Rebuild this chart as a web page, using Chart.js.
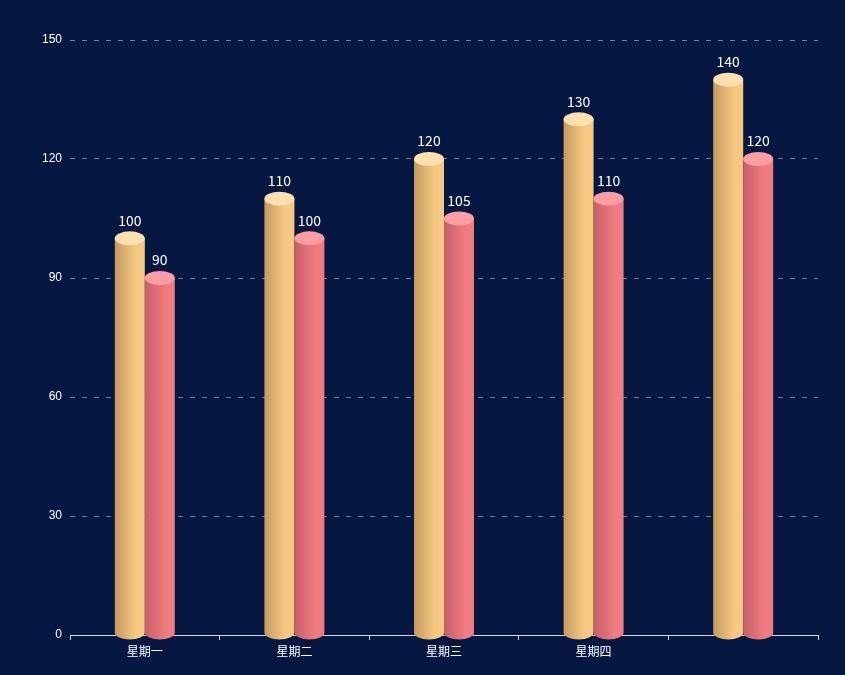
<!DOCTYPE html>
<html><head><meta charset="utf-8">
<script src="https://cdn.jsdelivr.net/npm/chart.js@4/dist/chart.umd.min.js"></script>
<style>html,body{margin:0;background:#061841}#c{display:block}</style></head>
<body><canvas id="c" width="845" height="675"></canvas>
<script>
const categories = ['星期一','星期二','星期三','星期四',''];
const seriesA = [100,110,120,130,140];
const seriesB = [90,100,105,110,120];
const yTicks = [0,30,60,90,120,150];

const styles = [
  {dark:'#c49a5e', light:'#f6c983', top:'#fde0ae'},
  {dark:'#c55f68', light:'#f07b80', top:'#fb9da3'}
];
const cyl = {
  id:'cyl',
  afterDatasetsDraw(chart){
    const ctx = chart.ctx;
    chart.data.datasets.forEach((ds,di)=>{
      const meta = chart.getDatasetMeta(di), s = styles[di];
      meta.data.forEach((bar,i)=>{
        const w = 30, x0 = bar.x - w/2, yt = bar.y, yb = bar.base, ry = 7;
        const g = ctx.createLinearGradient(x0,0,x0+w,0);
        g.addColorStop(0,s.dark); g.addColorStop(0.7,s.light); g.addColorStop(1,s.light);
        ctx.save();
        ctx.fillStyle = g;
        ctx.beginPath();
        ctx.moveTo(x0,yt);
        ctx.lineTo(x0,yb-2);
        ctx.ellipse(bar.x,yb-2,w/2,ry,0,Math.PI,0,true);
        ctx.lineTo(x0+w,yt);
        ctx.closePath(); ctx.fill();
        ctx.fillStyle = s.top;
        ctx.beginPath(); ctx.ellipse(bar.x,yt,w/2,ry,0,0,Math.PI*2); ctx.fill();
        ctx.fillStyle = '#ffffff';
        ctx.font = '14px "Microsoft YaHei","Noto Sans CJK SC",sans-serif';
        ctx.textAlign = 'center'; ctx.textBaseline = 'bottom';
        ctx.fillText(ds.data[i], bar.x, yt-11);
        ctx.restore();
      });
    });
  }
};
new Chart(document.getElementById('c'),{
  type:'bar',
  data:{labels:categories,datasets:[
    {data:seriesA,backgroundColor:'rgba(0,0,0,0)'},
    {data:seriesB,backgroundColor:'rgba(0,0,0,0)'}
  ]},
  options:{
    responsive:false,animation:false,
    layout:{padding:{left:0,right:27,top:40,bottom:0}},
    datasets:{bar:{barThickness:30,categoryPercentage:0.481,barPercentage:1}},
    plugins:{legend:{display:false},tooltip:{enabled:false}},
    scales:{
      x:{
        afterFit(s){s.height=40;},
        grid:{drawOnChartArea:false,color:'#cfd6e6',tickLength:5,offset:true},
        border:{color:'#cfd6e6'},
        ticks:{color:'#ffffff',font:{size:12,family:'"Noto Sans CJK SC",sans-serif'},padding:4}
      },
      y:{
        min:0,max:150,
        afterFit(s){s.width=70;},
        afterBuildTicks(s){s.ticks=yTicks.map(v=>({value:v}));},
        grid:{color:'rgba(255,255,255,0.45)',drawTicks:false,tickBorderDash:[4,6]},
        border:{display:false,dash:[5,7]},
        ticks:{color:'#ffffff',font:{size:12},padding:8}
      }
    }
  },
  plugins:[cyl]
});
</script></body></html>
